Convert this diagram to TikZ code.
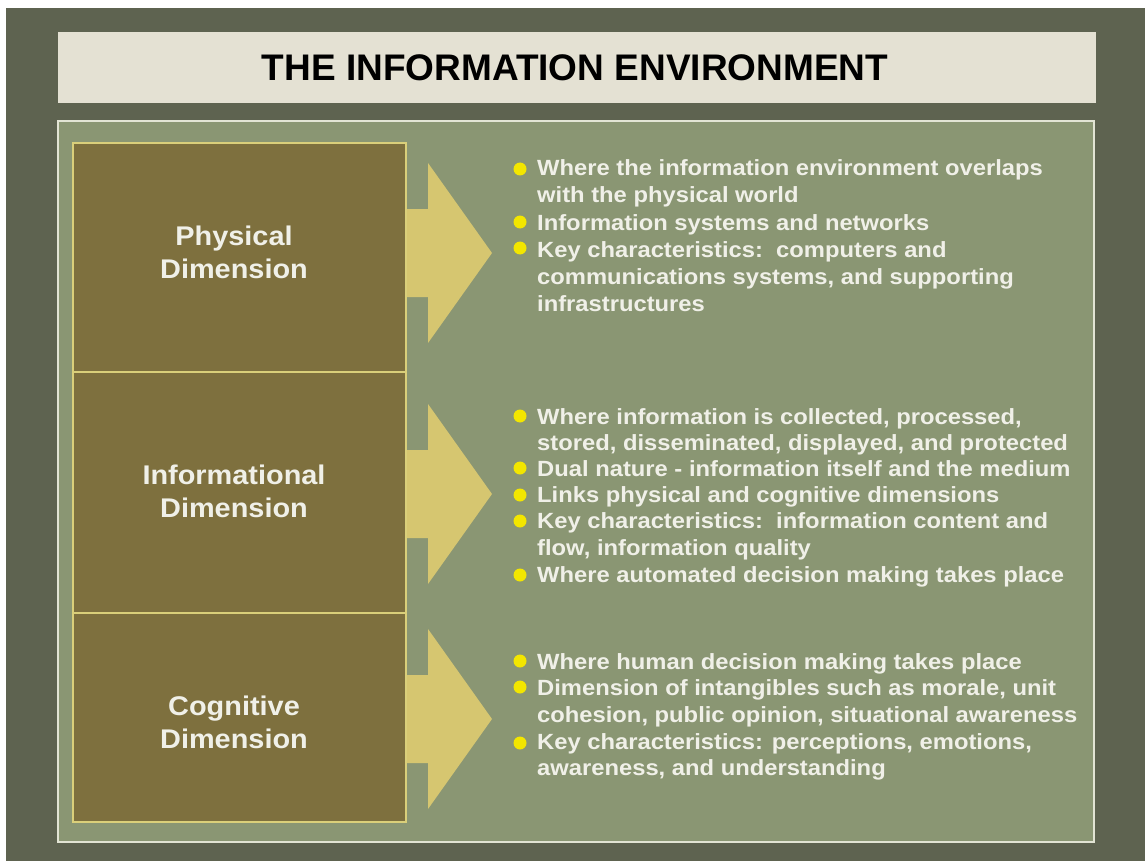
\documentclass[tikz,border=0pt]{standalone}
\usepackage{fontspec}
\setmainfont{Liberation Sans}
\newfontfamily\widefont[FakeStretch=1.08]{Liberation Sans}
\newfontfamily\labelfont[FakeStretch=1.07]{Liberation Sans}
\definecolor{outerbg}{RGB}{94,99,80}
\definecolor{titlebg}{RGB}{228,225,211}
\definecolor{panelbg}{RGB}{138,150,115}
\definecolor{panelline}{RGB}{226,228,212}
\definecolor{boxfill}{RGB}{126,112,62}
\definecolor{boxline}{RGB}{218,207,122}
\definecolor{arrowfill}{RGB}{214,198,112}
\definecolor{bulletcol}{RGB}{243,230,0}
\definecolor{textcol}{RGB}{240,240,232}
\begin{document}
\begin{tikzpicture}[x=1pt,y=-1pt,
  dimbox/.style={draw=boxline,line width=2.2pt,fill=boxfill},
  dimlabel/.style={anchor=base,text=textcol,inner sep=0pt,font=\labelfont\fontsize{27}{33}\selectfont\bfseries},
  itemline/.style={anchor=base west,text=textcol,inner sep=0pt,font=\widefont\fontsize{22}{26}\selectfont\bfseries},
  bulletdot/.style={circle,fill=bulletcol,inner sep=0pt,minimum size=13pt},
  bigarrow/.style={fill=arrowfill}]
\useasboundingbox (0,0) rectangle (1145,861);
\fill[white] (0,0) rectangle (1145,861);
\fill[outerbg] (6,8) rectangle (1145,861);
% title
\fill[titlebg] (58,32) rectangle (1096,103);
\node[font=\fontsize{37}{40}\selectfont\bfseries,text=black,inner sep=0pt] (title) at (575,67.5) {THE INFORMATION ENVIRONMENT};
% panel
\draw[panelline,line width=1.5pt,fill=panelbg] (58,121) rectangle (1094,842);
% arrows
\foreach \c [count=\i] in {253,494,719}{
  \fill[bigarrow] (404,\c-44) -- (428,\c-44) -- (428,\c-90) -- (492,\c) -- (428,\c+90) -- (428,\c+44) -- (404,\c+44) -- cycle;
}
% boxes
\draw[dimbox] (73,143) rectangle (406,372);
\draw[dimbox] (73,372) rectangle (406,613);
\draw[dimbox] (73,613) rectangle (406,822);
\node[dimlabel] (p1) at (234,245) {Physical};
\node[dimlabel] (p2) at (234,278) {Dimension};
\node[dimlabel] (i1) at (234,484) {Informational};
\node[dimlabel] (i2) at (234,517) {Dimension};
\node[dimlabel] (c1) at (234,715) {Cognitive};
\node[dimlabel] (c2) at (234,748) {Dimension};
% section 1
\node[bulletdot] (b11) at (520,169) {};
\node[bulletdot] (b12) at (520,222) {};
\node[bulletdot] (b13) at (520,248) {};
\node[itemline] (t11) at (537,176) {Where the information environment overlaps};
\node[itemline] (t12) at (537,203) {with the physical world};
\node[itemline] (t13) at (537,230) {Information systems and networks};
\node[itemline] (t14) at (537,257) {Key characteristics:\ \ computers and};
\node[itemline] (t15) at (537,284) {communications systems, and supporting};
\node[itemline] (t16) at (537,311) {infrastructures};
% section 2
\node[bulletdot] (b21) at (520,416) {};
\node[bulletdot] (b22) at (520,468) {};
\node[bulletdot] (b23) at (520,495) {};
\node[bulletdot] (b24) at (520,521) {};
\node[bulletdot] (b25) at (520,575) {};
\node[itemline] (t21) at (537,424) {Where information is collected, processed,};
\node[itemline] (t22) at (537,450) {stored, disseminated, displayed, and protected};
\node[itemline] (t23) at (537,476) {Dual nature - information itself and the medium};
\node[itemline] (t24) at (537,502) {Links physical and cognitive dimensions};
\node[itemline] (t25) at (537,528) {Key characteristics:\ \ information content and};
\node[itemline] (t26) at (537,555) {flow, information quality};
\node[itemline] (t27) at (537,582) {Where automated decision making takes place};
% section 3
\node[bulletdot] (b31) at (520,661) {};
\node[bulletdot] (b32) at (520,687) {};
\node[bulletdot] (b33) at (520,743) {};
\node[itemline] (t31) at (537,669) {Where human decision making takes place};
\node[itemline] (t32) at (537,695) {Dimension of intangibles such as morale, unit};
\node[itemline] (t33) at (537,722) {cohesion, public opinion, situational awareness};
\node[itemline] (t34) at (537,749) {Key characteristics: perceptions, emotions,};
\node[itemline] (t35) at (537,775) {awareness, and understanding};
\end{tikzpicture}
\end{document}
